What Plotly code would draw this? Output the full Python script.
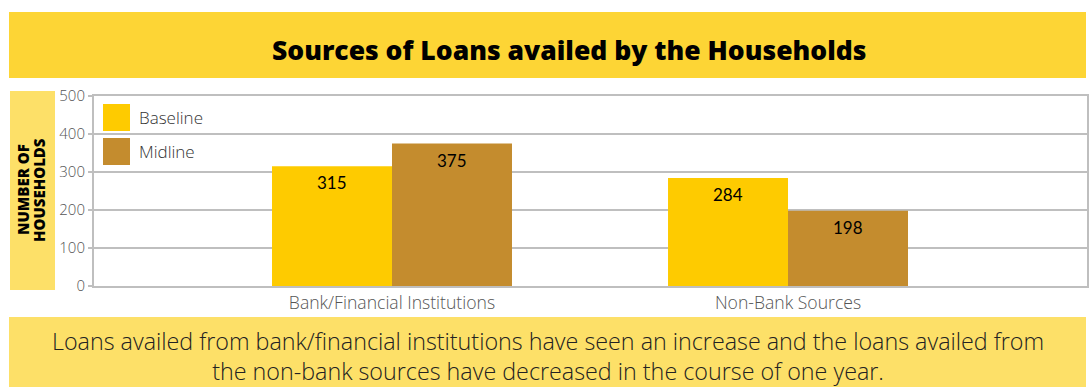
import plotly.graph_objects as go

# ---- data ----
categories = ["Bank/Financial Institutions", "Non-Bank Sources"]
series_names = ["Baseline", "Midline"]
baseline = [315, 284]
midline = [375, 198]
y_ticks = [0, 100, 200, 300, 400, 500]

title_text = "Sources of Loans availed by the Households"
y_title_lines = ["NUMBER OF", "HOUSEHOLDS"]
caption = ("Loans availed from bank/financial institutions have seen an increase and the loans availed from"
           "<br>the non-bank sources have decreased in the course of one year.")

# ---- style ----
W, H = 1092, 387
SERIES_COLORS = ["#FECB00", "#C48C2E"]
BANNER = "#FDD535"
PALE = "#FDE068"
GRID = "#BFBFBF"
BASE_FONT = "Open Sans"
BARGAP = 0.394


def px_x(x):
    return x / W


def px_y(y):
    return 1 - y / H


fig = go.Figure()
for name, vals, col in zip(series_names, [baseline, midline], SERIES_COLORS):
    fig.add_trace(go.Bar(
        x=categories, y=vals, name=name,
        marker=dict(color=col, line=dict(width=0)),
        showlegend=False,
    ))

shapes = []
annotations = []

# banners behind the title and the caption, and the y-title box
shapes.append(dict(type="rect", xref="paper", yref="paper", layer="below",
                   x0=px_x(9), x1=px_x(1086), y0=px_y(78), y1=px_y(12),
                   fillcolor=BANNER, line=dict(width=0)))
shapes.append(dict(type="rect", xref="paper", yref="paper", layer="below",
                   x0=px_x(9), x1=px_x(1086), y0=px_y(387), y1=px_y(317),
                   fillcolor=PALE, line=dict(width=0)))
shapes.append(dict(type="rect", xref="paper", yref="paper", layer="below",
                   x0=px_x(10), x1=px_x(55), y0=px_y(290), y1=px_y(91),
                   fillcolor=PALE, line=dict(width=0)))

annotations.append(dict(text=title_text, xref="paper", yref="paper",
                        x=px_x(569), y=px_y(50), showarrow=False,
                        xanchor="center", yanchor="middle",
                        font=dict(family=BASE_FONT, size=26.5, weight=800, color="#000000")))
annotations.append(dict(text=caption, xref="paper", yref="paper",
                        x=px_x(548), y=px_y(356), showarrow=False,
                        xanchor="center", yanchor="middle", align="center",
                        font=dict(family=BASE_FONT, size=23.3, weight=300,
                                  color="#222222")))
for k, line in enumerate(y_title_lines):
    annotations.append(dict(text=line, xref="paper", yref="paper",
                            x=px_x(23 + 16 * k), y=px_y(190), showarrow=False,
                            textangle=-90, xanchor="center", yanchor="middle",
                            font=dict(family=BASE_FONT, size=15, weight=800,
                                      color="#000000")))

# legend swatches and labels
for i, (name, col) in enumerate(zip(series_names, SERIES_COLORS)):
    top = 104 + 34 * i
    shapes.append(dict(type="rect", xref="paper", yref="paper",
                       x0=px_x(103), x1=px_x(130), y0=px_y(top + 27), y1=px_y(top),
                       fillcolor=col, line=dict(width=0)))
    annotations.append(dict(text=name, xref="paper", yref="paper",
                            x=px_x(137), y=px_y(top + 14), showarrow=False,
                            xanchor="left", yanchor="middle",
                            font=dict(family=BASE_FONT, size=17, weight=300,
                                      color="#333333")))

# value labels inside the top of each bar
half = (1 - BARGAP) / 4
for s, vals in enumerate([baseline, midline]):
    offset = -half if s == 0 else half
    for i, v in enumerate(vals):
        annotations.append(dict(text=str(v), xref="x", yref="y",
                                x=i + offset, y=v, yshift=-4, showarrow=False,
                                xanchor="center", yanchor="top",
                                font=dict(family="Lato", size=17, color="#000000")))

fig.update_layout(
    width=W, height=H, autosize=False,
    margin=dict(l=0, r=0, t=0, b=0, pad=0, autoexpand=False),
    paper_bgcolor="white", plot_bgcolor="white",
    barmode="group", bargap=BARGAP, bargroupgap=0,
    shapes=shapes, annotations=annotations,
    showlegend=False,
    xaxis=dict(domain=[px_x(94), px_x(1087)], range=[-0.7525, 1.755],
               automargin=False,
               showline=True, mirror=True, linecolor=GRID, linewidth=2,
               ticks="", showgrid=False, fixedrange=True,
               tickfont=dict(family=BASE_FONT, size=17.6, weight=300, color="#555555")),
    yaxis=dict(domain=[px_y(286), px_y(96)], range=[0, 500],
               automargin=False,
               tickvals=y_ticks, showline=True, mirror=True, linecolor=GRID,
               linewidth=2, showgrid=True, gridcolor=GRID, gridwidth=1.5,
               ticks="outside", ticklen=4, tickcolor=GRID, tickwidth=1.5,
               zeroline=False, fixedrange=True,
               tickfont=dict(family=BASE_FONT, size=15, weight=300, color="#555555")),
)

fig.write_html("out.html")
